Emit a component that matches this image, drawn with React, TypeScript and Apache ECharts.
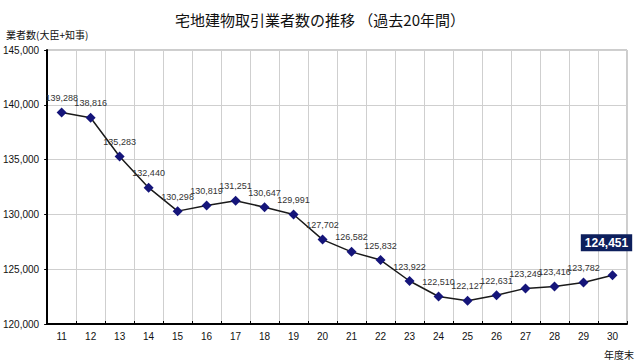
import React, { useEffect, useRef } from "react";
import * as echarts from "echarts";

const categories = ["11","12","13","14","15","16","17","18","19","20","21","22","23","24","25","26","27","28","29","30"];
const values = [139288,138816,135283,132440,130298,130819,131251,130647,129991,127702,126582,125832,123922,122510,122127,122631,123249,123416,123782,124451];
const yMin = 120000;
const yMax = 145000;
const yInterval = 5000;
const titleText = "宅地建物取引業者数の推移 （過去20年間）";
const yName = "業者数(大臣+知事)";
const xName = "年度末";

const NUM_FONT = "'Liberation Sans Narrow', 'Arial Narrow', 'Liberation Sans', Arial, sans-serif";
const CJK_FONT = "'Noto Sans CJK JP', 'Noto Sans', sans-serif";

const fmt = (v: number) => v.toLocaleString("en-US");

export default function App() {
  const ref = useRef<HTMLDivElement>(null);
  useEffect(() => {
    if (!ref.current) return;
    const chart = echarts.init(ref.current, undefined, { renderer: "svg" });
    const last = values.length - 1;
    const seriesData = values.map((v, i) =>
      i === last
        ? {
            value: v,
            label: {
              show: true,
              position: "top",
              distance: 19,
              offset: [-6, 0],
              backgroundColor: "#0d1f5c",
              color: "#ffffff",
              fontWeight: "bold",
              fontSize: 12,
              fontFamily: NUM_FONT,
              padding: [3, 4, 2, 4],
            },
          }
        : v
    );
    chart.setOption({
      animation: false,
      backgroundColor: "#ffffff",
      title: [
        {
          text: titleText,
          left: "center",
          top: 7,
          textStyle: { fontFamily: CJK_FONT, fontSize: 15, fontWeight: "normal", color: "#111" },
        },
        {
          text: yName,
          left: 6,
          top: 28,
          padding: 0,
          textStyle: { fontFamily: CJK_FONT, fontSize: 10, lineHeight: 12, fontWeight: "normal", color: "#111" },
        },
        {
          text: xName,
          right: 6,
          top: 348,
          padding: 0,
          textStyle: { fontFamily: CJK_FONT, fontSize: 10, lineHeight: 12, fontWeight: "normal", color: "#111" },
        },
      ],
      grid: { left: 46, right: 13, top: 50, bottom: 39, containLabel: false, show: true, borderColor: "#9a9a9a", borderWidth: 1 },
      xAxis: {
        type: "category",
        data: categories,
        boundaryGap: true,
        axisLine: { show: true, lineStyle: { color: "#000", width: 2 } },
        axisTick: { show: true, inside: true, length: 3, lineStyle: { color: "#000" } },
        axisLabel: { fontFamily: NUM_FONT, fontSize: 10, color: "#111", margin: 7 },
        splitLine: { show: true, lineStyle: { color: "#cfcfcf", width: 1 } },
      },
      yAxis: {
        type: "value",
        min: yMin,
        max: yMax,
        interval: yInterval,
        axisLine: { show: true, lineStyle: { color: "#000", width: 2 } },
        axisTick: { show: true, length: 3, lineStyle: { color: "#000" } },
        axisLabel: { fontFamily: NUM_FONT, fontSize: 10, color: "#111", margin: 8, formatter: (v: number) => fmt(v) },
        splitLine: { show: true, lineStyle: { color: "#cfcfcf", width: 1 } },
      },
      series: [
        {
          type: "line",
          data: seriesData,
          symbol: "diamond",
          symbolSize: 10,
          itemStyle: { color: "#15157a" },
          lineStyle: { color: "#1a1a1a", width: 1.5 },
          label: {
            show: true,
            position: "top",
            distance: 5,
            fontFamily: NUM_FONT,
            fontSize: 9,
            color: "#333",
            formatter: (p: any) => fmt(p.value),
          },
        },
      ],
    });
    return () => chart.dispose();
  }, []);
  return <div ref={ref} style={{ width: 640, height: 363, position: "absolute", left: 0, top: 0 }} />;
}
